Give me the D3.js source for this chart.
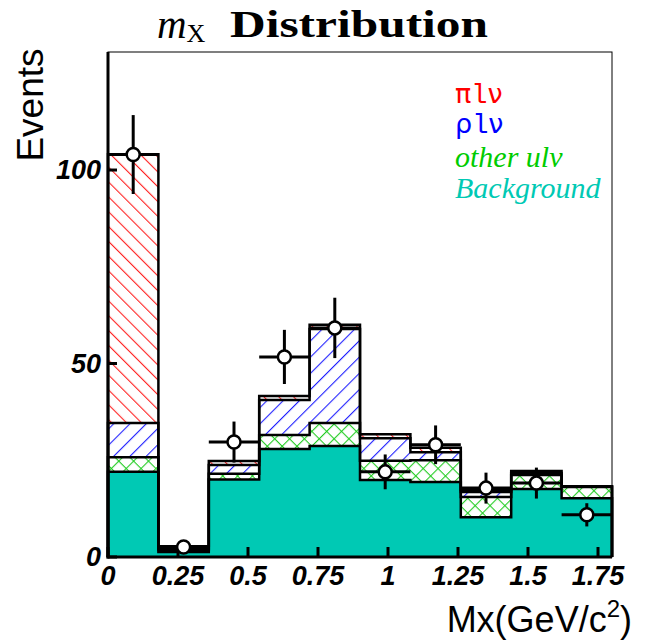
<!DOCTYPE html>
<html>
<head>
<meta charset="utf-8">
<script src="https://cdn.jsdelivr.net/npm/d3@7"></script>
<style>
  body { margin: 0; background: #fff; }
</style>
</head>
<body>
<div id="chart"></div>
<script>
// Data
const binStart = [0, 0.18, 0.36, 0.54, 0.72, 0.90, 1.08, 1.26, 1.44, 1.62]
const binWidth = 0.18
const background = [22.0, 1.3, 20.0, 27.9, 28.7, 19.9, 19.4, 10.3, 17.6, 15.2]
const otherUlnu = [3.8, 0.5, 1.5, 3.6, 5.9, 5.0, 5.6, 5.2, 3.6, 2.9]
const rhoLnu = [8.8, 0.4, 2.3, 9.1, 24.3, 5.8, 2.1, 1.3, 0.5, 0.1]
const piLnu = [69.5, 0.6, 1.0, 1.0, 1.1, 1.0, 1.1, 0.5, 0.5, 0.1]
const dataVals = [104, 2.6, 29.7, 51.7, 59.2, 22.0, 29.0, 17.8, 19.1, 10.9]
const dataErr = [10.2, 1.2, 5.3, 7.0, 7.8, 4.5, 5.0, 4.0, 4.0, 3.0]
const xTicks = [0, 0.25, 0.5, 0.75, 1, 1.25, 1.5, 1.75]
const yTicks = [0, 50, 100]

const dims = { width: 649, height: 642, left: 108, right: 612, top: 52, bottom: 557 }

const svg = d3.select('#chart')
  .append('svg')
  .attr('width', dims.width)
  .attr('height', dims.height)

// scales
const x = d3.scaleLinear().domain([0, 1.8]).range([dims.left, dims.right])
const y = d3.scaleLinear().domain([0, 130.5]).range([dims.bottom, dims.top])

// patterns
const defs = svg.append('defs')
function hatch(id, color, size, angle) {
  const p = defs.append('pattern')
    .attr('id', id)
    .attr('patternUnits', 'userSpaceOnUse')
    .attr('width', size).attr('height', size)
    .attr('patternTransform', `rotate(${angle})`)
  p.append('rect').attr('width', size).attr('height', size).attr('fill', '#fff')
  p.append('line').attr('x1', 0.5).attr('x2', 0.5).attr('y1', 0).attr('y2', size)
    .attr('stroke', color).attr('stroke-width', 1.2)
  return p
}
hatch('hatchRed', '#ff2020', 10.5, -45)
hatch('hatchBlue', '#2020ff', 11.5, 45)
hatch('hatchGreen', '#22cc22', 10.5, 45)
  .append('line').attr('x1', 0).attr('x2', 10.5).attr('y1', 0.5).attr('y2', 0.5)
  .attr('stroke', '#22cc22').attr('stroke-width', 1.2)

const table = binStart.map((b, i) => ({
  x0: b, bg: background[i], other: otherUlnu[i], rho: rhoLnu[i], pi: piLnu[i]
}))
const keys = ['bg', 'other', 'rho', 'pi']
const fills = { bg: '#00c9b4', other: 'url(#hatchGreen)', rho: 'url(#hatchBlue)', pi: 'url(#hatchRed)' }
const series = d3.stack().keys(keys)(table)

// frame
svg.append('rect')
  .attr('x', dims.left).attr('y', dims.top)
  .attr('width', dims.right - dims.left).attr('height', dims.bottom - dims.top)
  .attr('fill', 'none').attr('stroke', '#000').attr('stroke-width', 1)

// stacked histogram: step areas, then step outlines
const stepPts = s => s.map(d => ({ xv: d.data.x0, lo: d[0], hi: d[1] }))
  .concat([{ xv: s[s.length - 1].data.x0 + binWidth, lo: s[s.length - 1][0], hi: s[s.length - 1][1] }])

const area = d3.area()
  .curve(d3.curveStepAfter)
  .x(d => x(d.xv))
  .y0(d => y(d.lo))
  .y1(d => y(d.hi))

const outline = d3.line()
  .curve(d3.curveStepAfter)
  .x(d => x(d.xv))
  .y(d => y(d.hi))

const layers = svg.append('g')
series.forEach(s => {
  layers.append('path')
    .attr('d', area(stepPts(s)))
    .attr('fill', fills[s.key])
})
series.forEach(s => {
  const pts = stepPts(s)
  const first = pts[0], last = pts[pts.length - 1]
  const full = [{ xv: first.xv, hi: 0 }].concat(pts)
  layers.append('path')
    .attr('d', outline(full) + `L${x(last.xv)},${y(0)}`)
    .attr('fill', 'none')
    .attr('stroke', '#000')
    .attr('stroke-width', 2.5)
})

// axes lines & ticks
const axes = svg.append('g').attr('stroke', '#000').attr('stroke-width', 3)
axes.append('line').attr('x1', dims.left).attr('x2', dims.left).attr('y1', dims.top).attr('y2', dims.bottom + 1.5)
axes.append('line').attr('x1', dims.left - 1.5).attr('x2', dims.right).attr('y1', dims.bottom).attr('y2', dims.bottom)
axes.selectAll('.xt').data(xTicks).join('line')
  .attr('x1', d => x(d)).attr('x2', d => x(d))
  .attr('y1', dims.bottom).attr('y2', dims.bottom - 10)
axes.selectAll('.yt').data(yTicks).join('line')
  .attr('x1', dims.left).attr('x2', dims.left + 9)
  .attr('y1', d => y(d)).attr('y2', d => y(d))

const tickFont = { 'font-family': 'Liberation Sans, Arial, sans-serif', 'font-weight': 'bold', 'font-style': 'italic', 'font-size': '27px' }
const xl = svg.append('g')
xl.selectAll('text').data(xTicks).join('text')
  .attr('x', d => x(d)).attr('y', 585)
  .attr('text-anchor', 'middle')
  .text(d => d3.format('')(d))
const yl = svg.append('g')
yl.selectAll('text').data(yTicks).join('text')
  .attr('x', 101).attr('y', d => y(d) + 9)
  .attr('text-anchor', 'end')
  .text(d => d)
for (const [k, v] of Object.entries(tickFont)) { xl.attr(k, v); yl.attr(k, v) }

// data points
const pts = svg.append('g')
const pData = binStart.map((b, i) => ({ c: b + binWidth / 2, v: dataVals[i], e: dataErr[i] }))
pts.selectAll('.eh').data(pData).join('line')
  .attr('x1', d => x(d.c - binWidth / 2)).attr('x2', d => x(d.c + binWidth / 2))
  .attr('y1', d => y(d.v)).attr('y2', d => y(d.v))
  .attr('stroke', '#000').attr('stroke-width', 3)
pts.selectAll('.ev').data(pData).join('line')
  .attr('x1', d => x(d.c)).attr('x2', d => x(d.c))
  .attr('y1', d => y(d.v + d.e)).attr('y2', d => y(Math.max(0, d.v - d.e)))
  .attr('stroke', '#000').attr('stroke-width', 3)
pts.selectAll('circle').data(pData).join('circle')
  .attr('cx', d => x(d.c)).attr('cy', d => y(d.v))
  .attr('r', 6.5)
  .attr('fill', '#fff').attr('stroke', '#000').attr('stroke-width', 2.5)

// title
const title = svg.append('text')
  .attr('y', 38)
  .attr('font-family', 'Liberation Serif, serif')
  .attr('font-size', '41px')
  .attr('fill', '#000')
title.append('tspan').attr('x', 157).attr('font-style', 'italic').text('m')
title.append('tspan').attr('font-size', '26px').attr('dy', 4).text('X')
svg.append('text')
  .attr('x', 230).attr('y', 37)
  .attr('font-family', 'Liberation Serif, serif')
  .attr('font-weight', 'bold')
  .attr('font-size', '38px')
  .attr('textLength', 258).attr('lengthAdjust', 'spacingAndGlyphs')
  .text('Distribution')

// axis titles
svg.append('text')
  .attr('transform', 'translate(43,105) rotate(-90)')
  .attr('text-anchor', 'middle')
  .attr('font-family', 'Liberation Sans, Arial, sans-serif')
  .attr('font-size', '37px')
  .text('Events')
const xt = svg.append('text')
  .attr('x', 632).attr('y', 632)
  .attr('text-anchor', 'end')
  .attr('font-family', 'Liberation Sans, Arial, sans-serif')
  .attr('font-size', '36px')
xt.append('tspan').text('Mx(GeV/c')
xt.append('tspan').attr('font-size', '24px').attr('dy', -15).text('2')
xt.append('tspan').attr('dy', 15).text(')')

// legend
const lg = svg.append('g').attr('font-size', '27px')
function leptonRow(sym, color, yy) {
  const t = lg.append('text').attr('x', 455).attr('y', yy).attr('fill', color)
  t.append('tspan').attr('font-family', 'DejaVu Sans, sans-serif').text(sym)
  t.append('tspan').attr('font-family', 'Liberation Mono, monospace').text('l')
  t.append('tspan').attr('font-family', 'DejaVu Sans, sans-serif').text('ν')
}
leptonRow('π', '#ff0000', 103)
leptonRow('ρ', '#0000ff', 133)
lg.append('text').attr('x', 455).attr('y', 167)
  .attr('fill', '#00cc00').attr('font-style', 'italic')
  .attr('font-family', 'Liberation Serif, serif').attr('font-size', '30px')
  .text('other ulν')
lg.append('text').attr('x', 455).attr('y', 198)
  .attr('fill', '#00c9b4').attr('font-style', 'italic')
  .attr('font-family', 'Liberation Serif, serif').attr('font-size', '30px')
  .text('Background')
</script>
</body>
</html>
